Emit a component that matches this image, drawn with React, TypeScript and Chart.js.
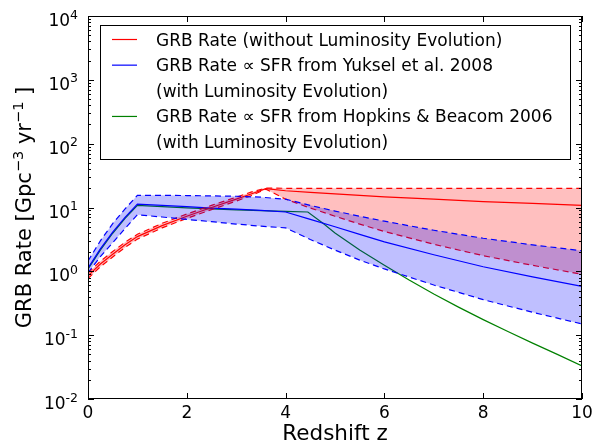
import React, { useEffect, useRef } from "react";
import { Chart, registerables } from "chart.js";

Chart.register(...registerables);

// ---- Data ----
// GRB rate without luminosity evolution (red)
const redZ = [0, 0.25, 0.5, 0.75, 1, 1.5, 2, 2.5, 3, 3.3, 3.6, 4, 4.5, 5, 5.5, 6, 7, 8, 9, 10];
const redMid = [0.85, 1.3, 1.85, 2.6, 3.5, 5.2, 7.3, 10.0, 13.5, 16.3, 19.8, 18.3, 17.2, 16.3, 15.5, 14.7, 13.5, 12.4, 11.6, 10.8];
const redHigh = [0.94, 1.44, 2.04, 2.85, 3.8, 5.65, 7.9, 10.8, 14.5, 17.4, 20.2, 20, 20, 20, 20, 20, 20, 20, 20, 20];
const redLow = [0.77, 1.18, 1.68, 2.37, 3.2, 4.8, 6.75, 9.25, 12.6, 15.3, 19.4, 13.5, 9.8, 7.3, 5.5, 4.2, 2.65, 1.76, 1.24, 0.9];

// GRB rate ∝ SFR (Yuksel et al. 2008), with luminosity evolution (blue)
const blueZ = [0, 0.25, 0.5, 0.75, 1, 1.5, 2, 2.5, 3, 3.5, 4, 4.5, 5, 5.5, 6, 7, 8, 9, 10];
const blueMid = [1.12, 2.25, 4.1, 7.0, 11.3, 10.8, 10.3, 9.8, 9.4, 9.0, 8.5, 6.5, 5.0, 3.8, 2.9, 1.82, 1.18, 0.82, 0.58];
const blueHigh = [1.45, 3.0, 5.6, 9.5, 15.5, 15.5, 15.4, 15.2, 15.0, 14.5, 13.5, 10.8, 8.8, 7.3, 6.1, 4.4, 3.3, 2.6, 2.1];
const blueLow = [0.95, 1.7, 2.8, 4.7, 7.7, 7.1, 6.5, 6.0, 5.5, 5.1, 4.8, 3.15, 2.15, 1.5, 1.09, 0.61, 0.36, 0.228, 0.15];

// GRB rate ∝ SFR (Hopkins & Beacom 2006), with luminosity evolution (green)
const greenZ = [0, 0.25, 0.5, 0.75, 1, 1.5, 2, 2.5, 3, 3.5, 4, 4.45, 4.75, 5, 5.5, 6, 6.5, 7, 7.5, 8, 8.5, 9, 9.5, 10];
const greenMid = [1.08, 2.15, 3.95, 6.75, 10.8, 10.3, 9.9, 9.5, 9.2, 8.95, 8.7, 8.5, 5.7, 4.0, 2.15, 1.25, 0.73, 0.44, 0.275, 0.175, 0.114, 0.075, 0.05, 0.033];

// Axes
const xMin = 0;
const xMax = 10;
const xTicks = [0, 2, 4, 6, 8, 10];
const yTickExps = [-2, -1, 0, 1, 2, 3, 4];
const yMinorMultipliers = [2, 3, 4, 5, 6, 7, 8, 9];
const xTitle = "Redshift z";

const legendRows: { color: string | null; text: string }[] = [
  { color: "#ff0000", text: "GRB Rate (without Luminosity Evolution)" },
  { color: "#0000ff", text: "GRB Rate \u221D SFR from Yuksel et al. 2008" },
  { color: null, text: "(with Luminosity Evolution)" },
  { color: "#008000", text: "GRB Rate \u221D SFR from Hopkins & Beacom 2006" },
  { color: null, text: "(with Luminosity Evolution)" },
];

const FONT = '"DejaVu Sans", sans-serif';

function pts(zs: number[], vs: number[]) {
  return zs.map((z, i) => ({ x: z, y: vs[i] }));
}

const axesPlugin = {
  id: "mplAxes",
  afterDraw(chart: any) {
    const ctx: CanvasRenderingContext2D = chart.ctx;
    const { left, right, top, bottom } = chart.chartArea;
    const xs = chart.scales.x;
    const ys = chart.scales.y;
    ctx.save();
    ctx.strokeStyle = "#000";
    ctx.fillStyle = "#000";
    ctx.lineWidth = 1;

    // ticks
    ctx.beginPath();
    for (const t of xTicks) {
      const px = Math.round(xs.getPixelForValue(t)) + 0.5;
      ctx.moveTo(px, bottom);
      ctx.lineTo(px, bottom - 6);
      ctx.moveTo(px, top);
      ctx.lineTo(px, top + 6);
    }
    const maxExp = yTickExps[yTickExps.length - 1];
    for (const e of yTickExps) {
      const py = Math.round(ys.getPixelForValue(Math.pow(10, e))) + 0.5;
      ctx.moveTo(left, py);
      ctx.lineTo(left + 6, py);
      ctx.moveTo(right, py);
      ctx.lineTo(right - 6, py);
      if (e < maxExp) {
        for (const m of yMinorMultipliers) {
          const pm = Math.round(ys.getPixelForValue(m * Math.pow(10, e))) + 0.5;
          ctx.moveTo(left, pm);
          ctx.lineTo(left + 3, pm);
          ctx.moveTo(right, pm);
          ctx.lineTo(right - 3, pm);
        }
      }
    }
    ctx.stroke();

    // frame
    ctx.strokeRect(Math.round(left) + 0.5, Math.round(top) + 0.5, Math.round(right - left) - 1, Math.round(bottom - top) - 1);

    // x tick labels
    ctx.font = `17px ${FONT}`;
    ctx.textAlign = "center";
    ctx.textBaseline = "alphabetic";
    for (const t of xTicks) {
      const px = xs.getPixelForValue(t);
      ctx.fillText(String(t), px, bottom + 19);
    }

    // y tick labels 10^e
    for (const e of yTickExps) {
      const py = ys.getPixelForValue(Math.pow(10, e));
      const sup = e < 0 ? "-" + String(-e) : String(e);
      ctx.font = `12.5px ${FONT}`;
      const supW = ctx.measureText(sup).width;
      const xr = left - 10;
      ctx.textAlign = "left";
      ctx.fillText(sup, xr - supW, py + 2.5);
      ctx.font = `17px ${FONT}`;
      ctx.textAlign = "right";
      ctx.fillText("10", xr - supW, py + 10);
    }

    // x title
    ctx.font = `21.5px ${FONT}`;
    ctx.textAlign = "center";
    ctx.fillText(xTitle, (left + right) / 2 + 0, 440);

    // y title with superscripts (rotated)
    ctx.save();
    ctx.translate(31, (top + bottom) / 2);
    ctx.rotate(-Math.PI / 2);
    const parts: { t: string; sup: boolean }[] = [
      { t: "GRB Rate [Gpc", sup: false },
      { t: "\u22123", sup: true },
      { t: " yr", sup: false },
      { t: "\u22121", sup: true },
      { t: " ]", sup: false },
    ];
    const mainF = `21px ${FONT}`;
    const supF = `14.5px ${FONT}`;
    let total = 0;
    for (const p of parts) {
      ctx.font = p.sup ? supF : mainF;
      total += ctx.measureText(p.t).width;
    }
    let cx = -total / 2;
    ctx.textAlign = "left";
    for (const p of parts) {
      ctx.font = p.sup ? supF : mainF;
      ctx.fillText(p.t, cx, p.sup ? -8.5 : 0);
      cx += ctx.measureText(p.t).width;
    }
    ctx.restore();

    // legend
    const lx = 100.5, ly = 25.5, lw = 470, lh = 134;
    ctx.fillStyle = "#fff";
    ctx.fillRect(lx, ly, lw, lh);
    ctx.strokeStyle = "#000";
    ctx.lineWidth = 1;
    ctx.strokeRect(lx, ly, lw, lh);
    ctx.font = `17px ${FONT}`;
    ctx.textAlign = "left";
    legendRows.forEach((r, i) => {
      const cy = 39.5 + i * 25.65;
      if (r.color) {
        ctx.strokeStyle = r.color;
        ctx.lineWidth = 1.2;
        ctx.beginPath();
        ctx.moveTo(112, cy);
        ctx.lineTo(137, cy);
        ctx.stroke();
      }
      ctx.fillStyle = "#000";
      ctx.fillText(r.text, 156, cy + 6);
    });

    ctx.restore();
  },
};

export default function App() {
  const ref = useRef<HTMLCanvasElement | null>(null);
  useEffect(() => {
    if (!ref.current) return;
    const dashed = [6, 4];
    const chart = new Chart(ref.current, {
      type: "line",
      data: {
        datasets: [
          {
            label: "Yuksel upper",
            data: pts(blueZ, blueHigh),
            borderColor: "#0000ff",
            borderWidth: 1.2,
            borderDash: dashed,
            backgroundColor: "rgba(0,0,255,0.25)",
            fill: "+1",
          },
          {
            label: "Yuksel lower",
            data: pts(blueZ, blueLow),
            borderColor: "#0000ff",
            borderWidth: 1.2,
            borderDash: dashed,
            fill: false,
          },
          {
            label: "No LE upper",
            data: pts(redZ, redHigh),
            borderColor: "#ff0000",
            borderWidth: 1.2,
            borderDash: dashed,
            backgroundColor: "rgba(255,0,0,0.25)",
            fill: "+1",
          },
          {
            label: "No LE lower",
            data: pts(redZ, redLow),
            borderColor: "#ff0000",
            borderWidth: 1.2,
            borderDash: dashed,
            fill: false,
          },
          {
            label: "GRB Rate (without Luminosity Evolution)",
            data: pts(redZ, redMid),
            borderColor: "#ff0000",
            borderWidth: 1.2,
            fill: false,
          },
          {
            label: "Yuksel",
            data: pts(blueZ, blueMid),
            borderColor: "#0000ff",
            borderWidth: 1.2,
            fill: false,
          },
          {
            label: "Hopkins & Beacom",
            data: pts(greenZ, greenMid),
            borderColor: "#008000",
            borderWidth: 1.2,
            fill: false,
          },
        ],
      },
      options: {
        animation: false,
        responsive: false,
        devicePixelRatio: 1,
        layout: { padding: { left: 88, top: 16, right: 13, bottom: 44 } },
        elements: { point: { radius: 0, hoverRadius: 0 }, line: { tension: 0 } },
        plugins: { legend: { display: false }, tooltip: { enabled: false } },
        events: [],
        scales: {
          x: { type: "linear", min: xMin, max: xMax, display: false },
          y: { type: "logarithmic", min: 0.01, max: 10000, display: false },
        },
      },
      plugins: [axesPlugin],
    });
    return () => chart.destroy();
  }, []);
  return (
    <div style={{ position: "fixed", left: 0, top: 0, width: 595, height: 443, background: "#fff" }}>
      <canvas ref={ref} width={595} height={443} style={{ display: "block" }} />
    </div>
  );
}
